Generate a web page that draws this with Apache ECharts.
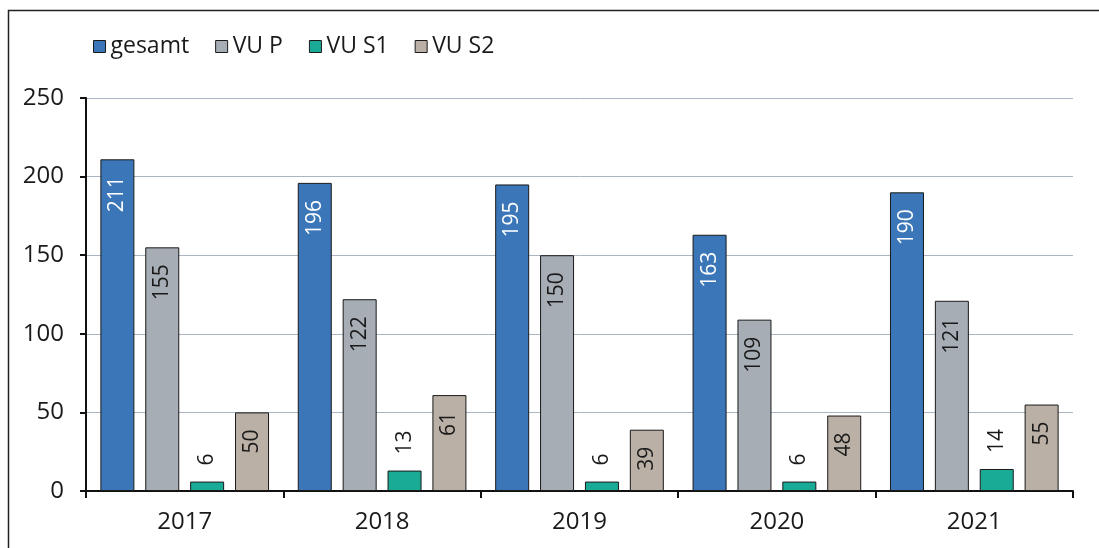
<!DOCTYPE html>
<html>
<head>
<meta charset="utf-8">
<script src="https://cdn.jsdelivr.net/npm/echarts@6/dist/echarts.min.js"></script>
<style>
  html, body { margin: 0; padding: 0; background: #fff; }
  #chart { width: 1099px; height: 548px; }
</style>
</head>
<body>
<div id="chart"></div>
<script>
  // Jahre und Werte aus der Vorlage
  const jahre = ["2017", "2018", "2019", "2020", "2021"];
  const gesamt = [211, 196, 195, 163, 190];
  const vuP = [155, 122, 150, 109, 121];
  const vuS1 = [6, 13, 6, 6, 14];
  const vuS2 = [50, 61, 39, 48, 55];

  const schrift = "'Open Sans', sans-serif";

  // Beschriftung innen oben, um 90° gedreht
  function labelInnen(farbe) {
    return {
      show: true,
      position: "insideTop",
      rotate: 90,
      align: "right",
      verticalAlign: "middle",
      distance: 17,
      color: farbe,
      fontSize: 21,
      fontFamily: schrift,
    };
  }

  function serie(name, werte, farbe, label) {
    return {
      name: name,
      type: "bar",
      data: werte,
      barWidth: 34,
      barGap: "32%",
      itemStyle: { color: farbe, borderColor: "#1a1a1a", borderWidth: 1 },
      label: label,
    };
  }

  var myChart = echarts.init(document.getElementById("chart"));

  var option = {
    backgroundColor: "#fff",
    animation: false,
    graphic: [
      {
        type: "rect",
        left: 6,
        top: 8,
        shape: { width: 1200, height: 600 },
        style: { fill: "none", stroke: "#222", lineWidth: 1.5 },
        silent: true,
      },
    ],
    legend: {
      left: 88,
      top: 30,
      itemWidth: 12,
      itemHeight: 12,
      itemGap: 26,
      icon: "rect",
      textStyle: { fontSize: 23, fontFamily: schrift, color: "#1a1a1a" },
      itemStyle: { borderColor: "#1a1a1a", borderWidth: 1 },
    },
    grid: { left: 86, right: 26, top: 98, bottom: 57, containLabel: false },
    xAxis: {
      type: "category",
      data: jahre,
      axisLine: { lineStyle: { color: "#111", width: 2 } },
      axisTick: { show: true, alignWithLabel: false, length: 7, lineStyle: { color: "#111", width: 2 } },
      axisLabel: { fontSize: 24, fontFamily: schrift, color: "#1a1a1a", margin: 19 },
    },
    yAxis: {
      type: "value",
      min: 0,
      max: 250,
      interval: 50,
      axisLine: { show: true, lineStyle: { color: "#111", width: 2 } },
      axisTick: { show: true, inside: false, length: 6, lineStyle: { color: "#111", width: 2 } },
      axisLabel: { fontSize: 24, fontFamily: schrift, color: "#1a1a1a", margin: 22 },
      splitLine: { lineStyle: { color: "#aab4c3", width: 1 } },
    },
    series: [
      serie("gesamt", gesamt, "#3a76b8", labelInnen("#ffffff")),
      serie("VU P", vuP, "#a6adb5", labelInnen("#1a1a1a")),
      serie("VU S1", vuS1, "#1aab97", {
        show: true,
        position: "top",
        rotate: 90,
        align: "left",
        verticalAlign: "middle",
        distance: 16,
        color: "#1a1a1a",
        fontSize: 21,
        fontFamily: schrift,
      }),
      serie("VU S2", vuS2, "#bab0a6", labelInnen("#1a1a1a")),
    ],
  };

  myChart.setOption(option);
</script>
</body>
</html>
